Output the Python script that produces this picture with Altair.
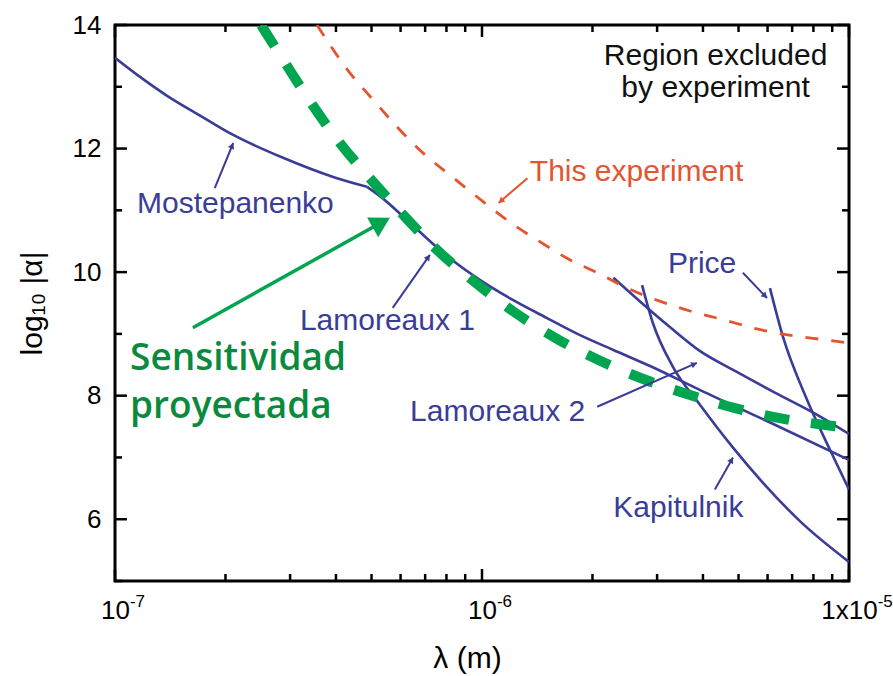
import math
import altair as alt
import pandas as pd

# ---------------- data (λ in m, log10|α|) ----------------
most_lam = [1.00e-7, 1.17e-7, 1.39e-7, 1.71e-7, 2.10e-7, 2.87e-7, 3.93e-7, 4.86e-7]
most_la = [13.47, 13.16, 12.85, 12.53, 12.22, 11.85, 11.54, 11.38]

lam1_lam = [4.86e-7, 5.27e-7, 6.49e-7, 8.03e-7, 9.89e-7, 1.213e-6, 1.50e-6, 1.85e-6,
            2.28e-6, 2.87e-6, 3.93e-6, 6.28e-6, 1.0e-5]
lam1_la = [11.38, 11.23, 10.75, 10.26, 9.87, 9.55, 9.26, 8.98, 8.74, 8.48, 8.09, 7.53, 6.96]

lam2_lam = [2.28e-6, 2.70e-6, 3.25e-6, 3.93e-6, 4.89e-6, 6.28e-6, 8.08e-6, 1.0e-5]
lam2_la = [9.91, 9.52, 9.11, 8.72, 8.40, 8.05, 7.71, 7.38]

kap_lam = [2.73e-6, 2.92e-6, 3.31e-6, 3.93e-6, 4.83e-6, 5.83e-6, 7.35e-6, 1.0e-5]
kap_la = [9.79, 9.18, 8.47, 7.85, 7.16, 6.59, 5.97, 5.31]

price_lam = [6.09e-6, 6.61e-6, 7.69e-6, 8.88e-6, 1.0e-5]
price_la = [9.74, 8.95, 7.93, 7.12, 6.48]

this_lam = [3.55e-7, 4.37e-7, 5.05e-7, 5.87e-7, 6.90e-7, 8.18e-7, 1.007e-6, 1.19e-6, 1.44e-6,
            1.71e-6, 2.06e-6, 2.53e-6, 3.05e-6, 3.69e-6, 4.54e-6, 5.61e-6, 7.03e-6, 8.71e-6, 1.0e-5]
this_la = [14.0, 13.22, 12.79, 12.35, 11.93, 11.57, 11.14, 10.81, 10.49,
           10.22, 9.99, 9.72, 9.53, 9.37, 9.23, 9.08, 8.97, 8.90, 8.85]

sens_lam = [2.50e-7, 2.92e-7, 3.44e-7, 4.10e-7, 5.05e-7, 6.09e-7, 7.54e-7, 9.69e-7, 1.213e-6,
            1.60e-6, 2.07e-6, 2.75e-6, 3.69e-6, 4.95e-6, 6.69e-6, 9.04e-6, 1.0e-5]
sens_la = [14.0, 13.37, 12.72, 12.09, 11.46, 10.93, 10.36, 9.81, 9.37,
           8.92, 8.58, 8.27, 8.01, 7.79, 7.62, 7.51, 7.48]

# annotation labels
blue_labels = ["Mostepanenko", "Lamoreaux 1", "Lamoreaux 2", "Kapitulnik", "Price"]
blue_label_lam = [1.148e-7, 3.19e-7, 6.37e-7, 2.28e-6, 3.21e-6]
blue_label_la = [10.96, 9.06, 7.59, 6.04, 9.99]

red_labels = ["This experiment"]
red_label_lam = [1.35e-6]
red_label_la = [11.48]

black_labels = ["Region excluded", "by experiment"]
black_label_lam = [4.33e-6, 4.33e-6]
black_label_la = [13.35, 12.83]

green_labels = ["Sensitividad", "proyectada"]
green_label_lam = [1.099e-7, 1.099e-7]
green_label_la = [8.42, 7.64]

# pointer lines (start -> end)
ptr_names = ["Mostepanenko", "Lamoreaux 1", "Lamoreaux 2", "Kapitulnik", "Price", "This experiment"]
ptr_lam0 = [1.87e-7, 5.71e-7, 2.06e-6, 4.31e-6, 5.14e-6, 1.33e-6]
ptr_la0 = [11.36, 9.42, 7.82, 6.48, 9.99, 11.52]
ptr_lam1 = [2.10e-7, 7.21e-7, 3.85e-6, 4.83e-6, 5.98e-6, 1.11e-6]
ptr_la1 = [12.09, 10.28, 8.53, 7.00, 9.58, 11.12]

arrow_lam = [1.63e-7, 5.61e-7]
arrow_la = [9.10, 10.88]

# axis ticks and labels
x_major = [1e-7, 1e-6, 1e-5]
x_label_base = ["10", "10", "1x10"]
x_label_exp = ["-7", "-6", "-5"]
x_minor = [2e-7, 3e-7, 4e-7, 5e-7, 6e-7, 7e-7, 8e-7, 9e-7,
           2e-6, 3e-6, 4e-6, 5e-6, 6e-6, 7e-6, 8e-6, 9e-6]
y_major = [6, 8, 10, 12, 14]
y_minor = [5, 7, 9, 11, 13]

# ---------------- styling ----------------
W, H = 734, 556
XDOM = [1e-7, 1e-5]
YDOM = [5, 14]
BLUE = "#3a3d98"
RED = "#e4552f"
GREEN = "#00a54f"
GREEN_TXT = "#0a8a3d"
FONT = "Liberation Sans"
MAJ, MIN = 12, 7          # tick lengths in px (drawn inward)
LBL_SIZE, SUP_SIZE = 26, 17

xs = alt.Scale(type="log", domain=XDOM, nice=False)
ys = alt.Scale(domain=YDOM, nice=False, zero=False)


def to_px(lam, la):
    lx0, lx1 = math.log10(XDOM[0]), math.log10(XDOM[1])
    return (W * (math.log10(lam) - lx0) / (lx1 - lx0),
            H * (YDOM[1] - la) / (YDOM[1] - YDOM[0]))


def to_data(px, py):
    lx0, lx1 = math.log10(XDOM[0]), math.log10(XDOM[1])
    return (10 ** (lx0 + px / W * (lx1 - lx0)),
            YDOM[1] - py / H * (YDOM[1] - YDOM[0]))


def head(lam0, la0, lam1, la1, size):
    x0, y0 = to_px(lam0, la0)
    x1, y1 = to_px(lam1, la1)
    dx, dy = x1 - x0, y1 - y0
    d = math.hypot(dx, dy)
    ux, uy = dx / d, dy / d
    h = 0.433 * math.sqrt(size)
    cx, cy = x1 - ux * h, y1 - uy * h
    ang = math.degrees(math.atan2(dx, -dy)) % 360
    lam_c, la_c = to_data(cx, cy)
    return lam_c, la_c, ang


# curve tables
rows = []
for name, lx, ly in [("Mostepanenko", most_lam, most_la),
                     ("Lamoreaux 1", lam1_lam, lam1_la),
                     ("Lamoreaux 2", lam2_lam, lam2_la),
                     ("Kapitulnik", kap_lam, kap_la),
                     ("Price", price_lam, price_la)]:
    for i, (a, b) in enumerate(zip(lx, ly)):
        rows.append({"series": name, "i": i, "lam": a, "la": b})
df_blue = pd.DataFrame(rows)
df_red = pd.DataFrame({"i": range(len(this_lam)), "lam": this_lam, "la": this_la})
df_green = pd.DataFrame({"i": range(len(sens_lam)), "lam": sens_lam, "la": sens_la})

prow, hrow = [], []
for k, n in enumerate(ptr_names):
    col = RED if n == "This experiment" else BLUE
    prow.append({"id": n, "i": 0, "lam": ptr_lam0[k], "la": ptr_la0[k], "col": col})
    prow.append({"id": n, "i": 1, "lam": ptr_lam1[k], "la": ptr_la1[k], "col": col})
    lc, yc, ang = head(ptr_lam0[k], ptr_la0[k], ptr_lam1[k], ptr_la1[k], 45)
    hrow.append({"lam": lc, "la": yc, "ang": ang, "col": col, "sz": 45})
df_ptr = pd.DataFrame(prow)

lc, yc, ang = head(arrow_lam[0], arrow_la[0], arrow_lam[1], arrow_la[1], 520)
hrow.append({"lam": lc, "la": yc, "ang": ang, "col": GREEN, "sz": 520})
df_heads = pd.DataFrame(hrow)
df_arrow = pd.DataFrame({"i": [0, 1], "lam": [arrow_lam[0], lc], "la": [arrow_la[0], yc]})

# inward tick segments (ends derived from the tick length in px)
ytick_rows = []
for vals, ln in [(y_major, MAJ), (y_minor, MIN)]:
    for v in vals:
        ytick_rows.append({"la": v, "lam": XDOM[0], "lam2": to_data(ln, 0)[0]})
        ytick_rows.append({"la": v, "lam": XDOM[1], "lam2": to_data(W - ln, 0)[0]})
df_yt = pd.DataFrame(ytick_rows)
xtick_rows = []
for vals, ln in [(x_major, MAJ), (x_minor, MIN)]:
    for v in vals:
        xtick_rows.append({"lam": v, "la": YDOM[0], "la2": to_data(0, H - ln)[1]})
        xtick_rows.append({"lam": v, "la": YDOM[1], "la2": to_data(0, ln)[1]})
df_xt = pd.DataFrame(xtick_rows)

# superscript exponents placed just right of each base label
def text_width(s, size):
    w = {"1": 0.556, "0": 0.556, "x": 0.5}
    return sum(w.get(c, 0.556) for c in s) * size


sup_rows = []
for v, base, ex in zip(x_major, x_label_base, x_label_exp):
    px, _ = to_px(v, YDOM[0])
    lam_s, _ = to_data(px + text_width(base, LBL_SIZE) / 2 + 0.5, 0)
    sup_rows.append({"lam": lam_s, "la": to_data(0, H + 26)[1], "t": ex})
df_sup = pd.DataFrame(sup_rows)

label_expr = "[" + ",".join("'" + s + "'" for s in x_label_base) + "][round(log(datum.value)/LN10)+7]"

xaxis = alt.Axis(values=x_major, labelExpr=label_expr, ticks=False, domain=False, grid=False,
                 labelFlush=False, labelOverlap=False, labelFont=FONT, labelFontSize=LBL_SIZE,
                 labelColor="black", labelPadding=16, titleFont=FONT, titleFontSize=30,
                 titleFontWeight="normal", titleColor="black", titlePadding=20, titleX=352)
yaxis = alt.Axis(values=y_major, format="d", ticks=False, domain=False, grid=False,
                 labelFont=FONT, labelFontSize=LBL_SIZE, labelColor="black", labelPadding=14,
                 titleFont=FONT, titleFontSize=30, titleFontWeight="normal", titleColor="black",
                 titlePadding=25)
XTITLE = "λ (m)"
YTITLE = "log₁₀ |α|"


def X(field="lam"):
    return alt.X(f"{field}:Q", scale=xs, axis=xaxis, title=XTITLE)


def Y(field="la"):
    return alt.Y(f"{field}:Q", scale=ys, axis=yaxis, title=YTITLE)


yt = alt.Chart(df_yt).mark_rule(color="black", strokeWidth=2.5).encode(x=X(), x2="lam2:Q", y=Y())
xt = alt.Chart(df_xt).mark_rule(color="black", strokeWidth=2.5).encode(x=X(), y=Y(), y2="la2:Q")

sup = alt.Chart(df_sup).mark_text(align="left", baseline="alphabetic", font=FONT, fontSize=SUP_SIZE,
                                  color="black").encode(x=X(), y=Y(), text="t:N")

blue = alt.Chart(df_blue).mark_line(color=BLUE, strokeWidth=2.6, interpolate="monotone", clip=True).encode(
    x=X(), y=Y(), detail="series:N", order="i:Q")

red = alt.Chart(df_red).mark_line(color=RED, strokeWidth=2.8, strokeDash=[13, 13],
                                  interpolate="monotone", clip=True).encode(x=X(), y=Y(), order="i:Q")
green = alt.Chart(df_green).mark_line(color=GREEN, strokeWidth=10, strokeDash=[25, 22], strokeCap="butt",
                                      interpolate="monotone", clip=True).encode(x=X(), y=Y(), order="i:Q")

ptr = alt.Chart(df_ptr).mark_line(strokeWidth=2).encode(
    x=X(), y=Y(), detail="id:N", order="i:Q", color=alt.Color("col:N", scale=None))
arrow = alt.Chart(df_arrow).mark_line(strokeWidth=3.5, color=GREEN).encode(x=X(), y=Y(), order="i:Q")
heads = alt.Chart(df_heads).mark_point(shape="triangle-up", filled=True, opacity=1, strokeWidth=0).encode(
    x=X(), y=Y(), angle=alt.Angle("ang:Q", scale=None), color=alt.Color("col:N", scale=None),
    size=alt.Size("sz:Q", scale=None))


def labels(txt, lx, ly, **kw):
    d = pd.DataFrame({"t": txt, "lam": lx, "la": ly})
    return alt.Chart(d).mark_text(baseline="alphabetic", **kw).encode(x=X(), y=Y(), text="t:N")


t_blue = labels(blue_labels, blue_label_lam, blue_label_la, align="left", font=FONT, fontSize=30, color=BLUE)
t_red = labels(red_labels, red_label_lam, red_label_la, align="left", font=FONT, fontSize=30, color=RED)
t_black = labels(black_labels, black_label_lam, black_label_la, align="center", font=FONT, fontSize=30,
                 color="#111111")
t_green = labels(green_labels, green_label_lam, green_label_la, align="left", font="Open Sans",
                 fontSize=37, fontWeight=600, color=GREEN_TXT)

chart = alt.layer(yt, xt, sup, blue, red, green, ptr, arrow, heads, t_blue, t_red, t_black, t_green).properties(
    width=W, height=H, autosize=alt.AutoSizeParams(type="none"),
    padding={"left": 115, "top": 25, "right": 44, "bottom": 95},
    background="white",
).configure_view(stroke="black", strokeWidth=3)

chart.save("out.html", embed_options={"renderer": "svg", "actions": False})
